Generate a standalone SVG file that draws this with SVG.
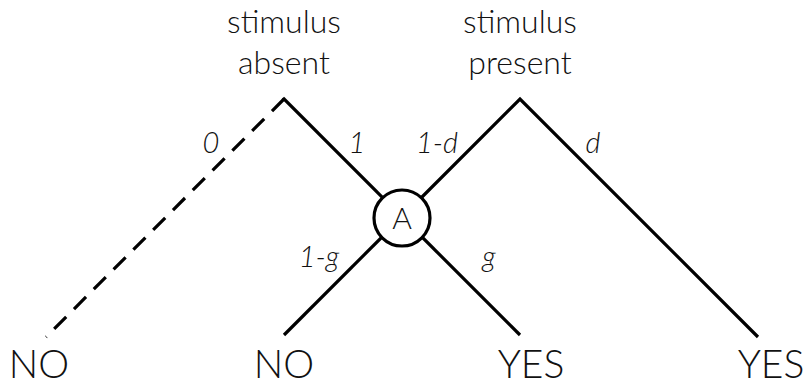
<svg xmlns="http://www.w3.org/2000/svg" width="812" height="387" viewBox="0 0 812 387">
<style>
.t{font-family:Lato,"Liberation Sans",sans-serif;fill:#111;text-anchor:middle;font-weight:300}
.h{font-size:32px}
.o{font-size:39px}
.l{font-size:29px;font-style:italic}
.e{stroke:#000;stroke-width:3.2;fill:none;stroke-linejoin:miter}
</style>
<rect width="812" height="387" fill="#fff"/>
<g id="connectors">
<path class="e" d="M284,99 L46,337" stroke-dasharray="17 11"/>
<path class="e" d="M284,99 L402,217" stroke-linecap="square"/>
<path class="e" d="M402,217 L520,99 L758,337"/>
<path class="e" d="M402,217 L284,335"/>
<path class="e" d="M402,217 L520,335"/>
</g>
<g id="labels">
<text class="t l" x="211" y="153">0</text>
<text class="t l" x="357" y="153">1</text>
<text class="t l" x="437" y="153">1-d</text>
<text class="t l" x="593" y="153">d</text>
<text class="t l" x="319" y="267">1-g</text>
<text class="t l" x="489" y="267">g</text>
</g>
<g id="absent"><text class="t h" x="284" y="33">stimulus</text><text class="t h" x="284" y="74">absent</text></g>
<g id="present"><text class="t h" x="520" y="33">stimulus</text><text class="t h" x="520" y="74">present</text></g>
<g id="A"><circle cx="402" cy="218" r="28" fill="#fff" stroke="#000" stroke-width="3.2"/><text class="t" x="402" y="229" font-size="30">A</text></g>
<g id="no1"><text class="t o" x="39" y="378">NO</text></g>
<g id="no2"><text class="t o" x="284" y="378">NO</text></g>
<g id="yes1"><text class="t o" x="531" y="378">YES</text></g>
<g id="yes2"><text class="t o" x="771" y="378">YES</text></g>
</svg>
